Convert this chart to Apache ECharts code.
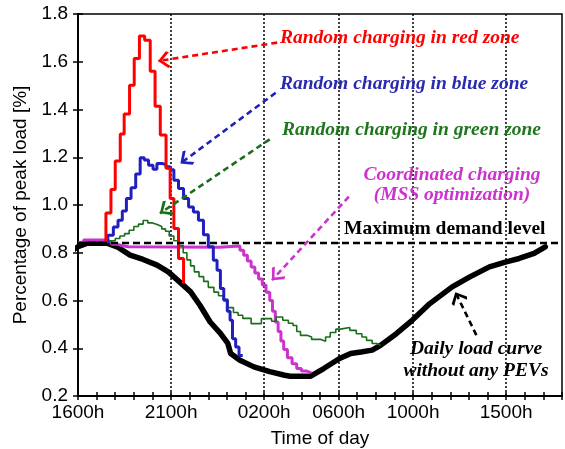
<!DOCTYPE html>
<html>
<head>
<meta charset="utf-8">
<script src="https://cdn.jsdelivr.net/npm/echarts@6/dist/echarts.min.js"></script>
<style>html,body{margin:0;padding:0;background:#fff}#c{width:565px;height:449px}</style>
</head>
<body>
<div id="c"></div>
<script>
// x values are hours after 1600h
const labelHours = [0, 5, 10, 14, 18, 23];
const labelTexts = ['1600h', '2100h', '0200h', '0600h', '1000h', '1500h'];
const gridHours = [5, 10, 14, 18, 23];
const maxDemand = 0.84;

const blackT = [-0.5, 0, 0.5, 1.55, 2.1, 2.8, 3.5, 4.25, 4.85, 5.5, 6.05, 6.55, 7.1, 7.65, 8.05, 8.2, 8.7, 9.45, 10.3, 11.1, 11.4, 12.5, 13.2, 14.05, 14.65, 15.2, 15.8, 16.25, 17.1, 17.95, 18.9, 20.1, 21.05, 22.1, 23.0, 23.7, 24.5, 25.1];
const blackV = [0.80, 0.825, 0.84, 0.84, 0.825, 0.79, 0.772, 0.748, 0.72, 0.675, 0.636, 0.58, 0.51, 0.462, 0.42, 0.378, 0.35, 0.322, 0.302, 0.287, 0.283, 0.283, 0.315, 0.357, 0.378, 0.384, 0.392, 0.412, 0.461, 0.517, 0.587, 0.657, 0.699, 0.741, 0.762, 0.776, 0.797, 0.825];

const redT = [1.5, 1.5, 1.77, 2.0, 2.27, 2.48, 2.77, 3.02, 3.30, 3.58, 3.88, 4.14, 4.42, 4.73, 4.95, 5.15, 5.4, 5.67];
const redV = [0.84, 0.967, 1.065, 1.184, 1.297, 1.381, 1.502, 1.614, 1.708, 1.69, 1.56, 1.414, 1.293, 1.154, 1.027, 0.902, 0.776, 0.671];

const blueT = [1.6, 1.6, 1.9, 2.15, 2.38, 2.6, 2.85, 3.1, 3.34, 3.56, 3.79, 4.03, 4.24, 4.51, 4.72, 4.95, 5.15, 5.4, 5.67, 5.94, 6.2, 6.47, 6.74, 7.0, 7.27, 7.47, 7.65, 7.83, 8.02, 8.17, 8.3, 8.47, 8.65, 8.85];
const blueV = [0.84, 0.873, 0.908, 0.936, 0.975, 1.027, 1.072, 1.13, 1.198, 1.188, 1.167, 1.15, 1.174, 1.17, 1.16, 1.148, 1.104, 1.069, 1.027, 0.992, 0.971, 0.936, 0.875, 0.825, 0.769, 0.727, 0.65, 0.601, 0.555, 0.517, 0.44, 0.405, 0.37, 0.37];

const greenT = [1.7, 1.7, 2.0, 2.25, 2.5, 2.75, 3.0, 3.25, 3.5, 3.75, 4.0, 4.25, 4.5, 4.7, 4.9, 5.15, 5.4, 5.65, 5.85, 6.05, 6.25, 6.5, 6.75, 7.0, 7.3, 7.55, 7.8, 8.05, 8.35, 8.6, 8.85, 9.3, 9.85, 10.4, 10.65, 11.0, 11.3, 11.55, 11.75, 11.95, 12.3, 12.55, 13.05, 13.3, 13.55, 13.85, 14.1, 14.6, 14.95, 15.25, 15.5, 15.8, 16.05, 16.25];
const greenV = [0.84, 0.85, 0.86, 0.87, 0.88, 0.894, 0.91, 0.92, 0.935, 0.925, 0.918, 0.91, 0.9, 0.89, 0.87, 0.85, 0.83, 0.80, 0.77, 0.745, 0.72, 0.70, 0.68, 0.655, 0.635, 0.62, 0.605, 0.57, 0.55, 0.538, 0.525, 0.503, 0.524, 0.513, 0.531, 0.517, 0.505, 0.495, 0.47, 0.454, 0.447, 0.437, 0.429, 0.447, 0.466, 0.48, 0.487, 0.475, 0.461, 0.447, 0.433, 0.42, 0.412, 0.412];

const magT = [0, 0.3, 1.55, 1.8, 2.1, 2.4, 2.7, 7.6, 8.7, 8.9, 9.1, 9.3, 9.5, 9.7, 9.9, 10.1, 10.3, 10.45, 10.6, 10.75, 10.9, 11.05, 11.25, 11.5, 11.75, 12.0, 12.25, 12.5];
const magV = [0.843, 0.853, 0.845, 0.836, 0.829, 0.825, 0.823, 0.828, 0.81, 0.79, 0.765, 0.74, 0.715, 0.69, 0.665, 0.635, 0.6, 0.555, 0.51, 0.47, 0.43, 0.395, 0.36, 0.335, 0.315, 0.305, 0.298, 0.295];

// annotation arrows: [fromHour, fromValue, toHour, toValue]
const arrowRed = [10.7, 1.68, 4.3, 1.603];
const arrowBlue = [10.62, 1.47, 5.5, 1.174];
const arrowGreen = [10.3, 1.275, 4.4, 0.965];
const arrowMag = [14.55, 1.035, 10.42, 0.685];
const arrowBlack = [21.4, 0.455, 20.27, 0.635];

const C_RED = '#ff0000', C_BLUE = '#2020c0', C_GREEN = '#1a6e1a', C_MAG = '#cc33cc';
const pts = (T, V) => T.map((t, i) => [t, V[i]]);
const chevron = 'path://M50,0 L50,0 M50,50 L100,88 L92,100 L50,66 L8,100 L0,88 Z';
const arrow = (a, color) => [
  {coord: [a[0], a[1]], symbol: 'none', lineStyle: {color: color}},
  {coord: [a[2], a[3]], symbol: chevron, symbolSize: [17, 24], itemStyle: {color: color}}
];
const SERIF = '"Liberation Serif", "Times New Roman", serif';
const SANS = '"Liberation Sans", Arial, sans-serif';

const chart = echarts.init(document.getElementById('c'));
const xBase = {type: 'value', min: 0, max: 26, interval: 1, position: 'bottom',
  axisLine: {show: true, lineStyle: {color: '#000', width: 2}}, splitLine: {show: false}};
const yBase = {type: 'value', min: 0.2, max: 1.8, interval: 0.2, position: 'left',
  axisLine: {show: true, lineStyle: {color: '#000', width: 2}}, splitLine: {show: false}};

chart.setOption({
  animation: false,
  backgroundColor: '#fff',
  grid: {left: 78, right: 3, top: 14, bottom: 53, show: true, borderColor: '#000', borderWidth: 1.5,
    containLabel: false, outerBoundsMode: 'none'},
  xAxis: [
    Object.assign({}, xBase, {
      axisTick: {show: true, inside: false, length: 4, lineStyle: {color: '#000', width: 1.5}},
      axisLabel: {margin: 7, color: '#000', fontSize: 19, fontFamily: SANS,
        formatter: v => { const i = labelHours.indexOf(Math.round(v)); return i >= 0 ? labelTexts[i] : ''; }},
      name: 'Time of day', nameLocation: 'middle', nameGap: 33,
      nameTextStyle: {color: '#000', fontSize: 19, fontFamily: SANS}
    }),
    Object.assign({}, xBase, {
      axisTick: {show: true, inside: true, length: 4, lineStyle: {color: '#000', width: 1.5}},
      axisLabel: {show: false}
    })
  ],
  yAxis: [
    Object.assign({}, yBase, {
      axisTick: {show: true, inside: false, length: 5, lineStyle: {color: '#000', width: 1.5}},
      axisLabel: {margin: 10, color: '#000', fontSize: 19, fontFamily: SANS, formatter: v => v.toFixed(1)},
      name: 'Percentage of peak load [%]', nameLocation: 'middle', nameGap: 48, nameRotate: 90,
      nameTextStyle: {color: '#000', fontSize: 19, fontFamily: SANS}
    }),
    Object.assign({}, yBase, {
      axisTick: {show: true, inside: true, length: 5, lineStyle: {color: '#000', width: 1.5}},
      axisLabel: {show: false}
    })
  ],
  series: [
    {name: 'grid', type: 'line', data: [], silent: true, z: 1,
      markLine: {silent: true, symbol: 'none', animation: false, z: 1,
        lineStyle: {color: '#000', width: 1.5, type: [2, 2]}, label: {show: false},
        data: gridHours.map(h => ({xAxis: h}))}},
    {name: 'Daily load', type: 'line', data: pts(blackT, blackV), symbol: 'none', clip: false, z: 3,
      lineStyle: {color: '#000', width: 5.5, join: 'round', cap: 'round'}},
    {name: 'Coordinated', type: 'line', step: 'end', data: pts(magT, magV), symbol: 'none', z: 4,
      lineStyle: {color: C_MAG, width: 3}},
    {name: 'Green', type: 'line', step: 'end', data: pts(greenT, greenV), symbol: 'none', z: 5,
      lineStyle: {color: C_GREEN, width: 1.6}},
    {name: 'Blue', type: 'line', step: 'end', data: pts(blueT, blueV), symbol: 'none', z: 6,
      lineStyle: {color: C_BLUE, width: 3}},
    {name: 'Red', type: 'line', step: 'end', data: pts(redT, redV), symbol: 'none', z: 7,
      lineStyle: {color: C_RED, width: 3}},
    {name: 'maxDemand', type: 'line', data: [], silent: true, z: 8,
      markLine: {silent: true, animation: false, z: 8, symbol: 'none', label: {show: false},
        lineStyle: {color: '#000', width: 2.4, type: [7, 4]},
        data: [{yAxis: maxDemand}]}},
    {name: 'annot', type: 'line', data: [], silent: true, z: 9,
      markLine: {silent: true, animation: false, z: 9, label: {show: false},
        lineStyle: {width: 2.6, type: [6, 4]},
        data: [
          arrow(arrowRed, C_RED), arrow(arrowBlue, C_BLUE), arrow(arrowGreen, C_GREEN),
          arrow(arrowMag, C_MAG), arrow(arrowBlack, '#000')
        ]}}
  ],
  graphic: [
    {type: 'text', x: 280, y: 38, z: 100, style: {text: 'Random charging in red zone', fill: C_RED, font: 'italic bold 19.5px ' + SERIF, align: 'left', verticalAlign: 'middle'}},
    {type: 'text', x: 280, y: 84, z: 100, style: {text: 'Random charging in blue zone', fill: '#2a2ab0', font: 'italic bold 19.5px ' + SERIF, align: 'left', verticalAlign: 'middle'}},
    {type: 'text', x: 282, y: 130, z: 100, style: {text: 'Random charging in green zone', fill: '#1f761f', font: 'italic bold 19.5px ' + SERIF, align: 'left', verticalAlign: 'middle'}},
    {type: 'text', x: 452, y: 175, z: 100, style: {text: 'Coordinated charging', fill: C_MAG, font: 'italic bold 19.5px ' + SERIF, align: 'center', verticalAlign: 'middle'}},
    {type: 'text', x: 452, y: 195, z: 100, style: {text: '(MSS optimization)', fill: C_MAG, font: 'italic bold 19.5px ' + SERIF, align: 'center', verticalAlign: 'middle'}},
    {type: 'text', x: 344, y: 229, z: 100, style: {text: 'Maximum demand level', fill: '#000', font: 'bold 19.5px ' + SERIF, align: 'left', verticalAlign: 'middle'}},
    {type: 'text', x: 476, y: 349, z: 100, style: {text: 'Daily load curve', fill: '#000', font: 'italic bold 19.5px ' + SERIF, align: 'center', verticalAlign: 'middle'}},
    {type: 'text', x: 476, y: 371, z: 100, style: {text: 'without any PEVs', fill: '#000', font: 'italic bold 19.5px ' + SERIF, align: 'center', verticalAlign: 'middle'}}
  ]
});
</script>
</body>
</html>
